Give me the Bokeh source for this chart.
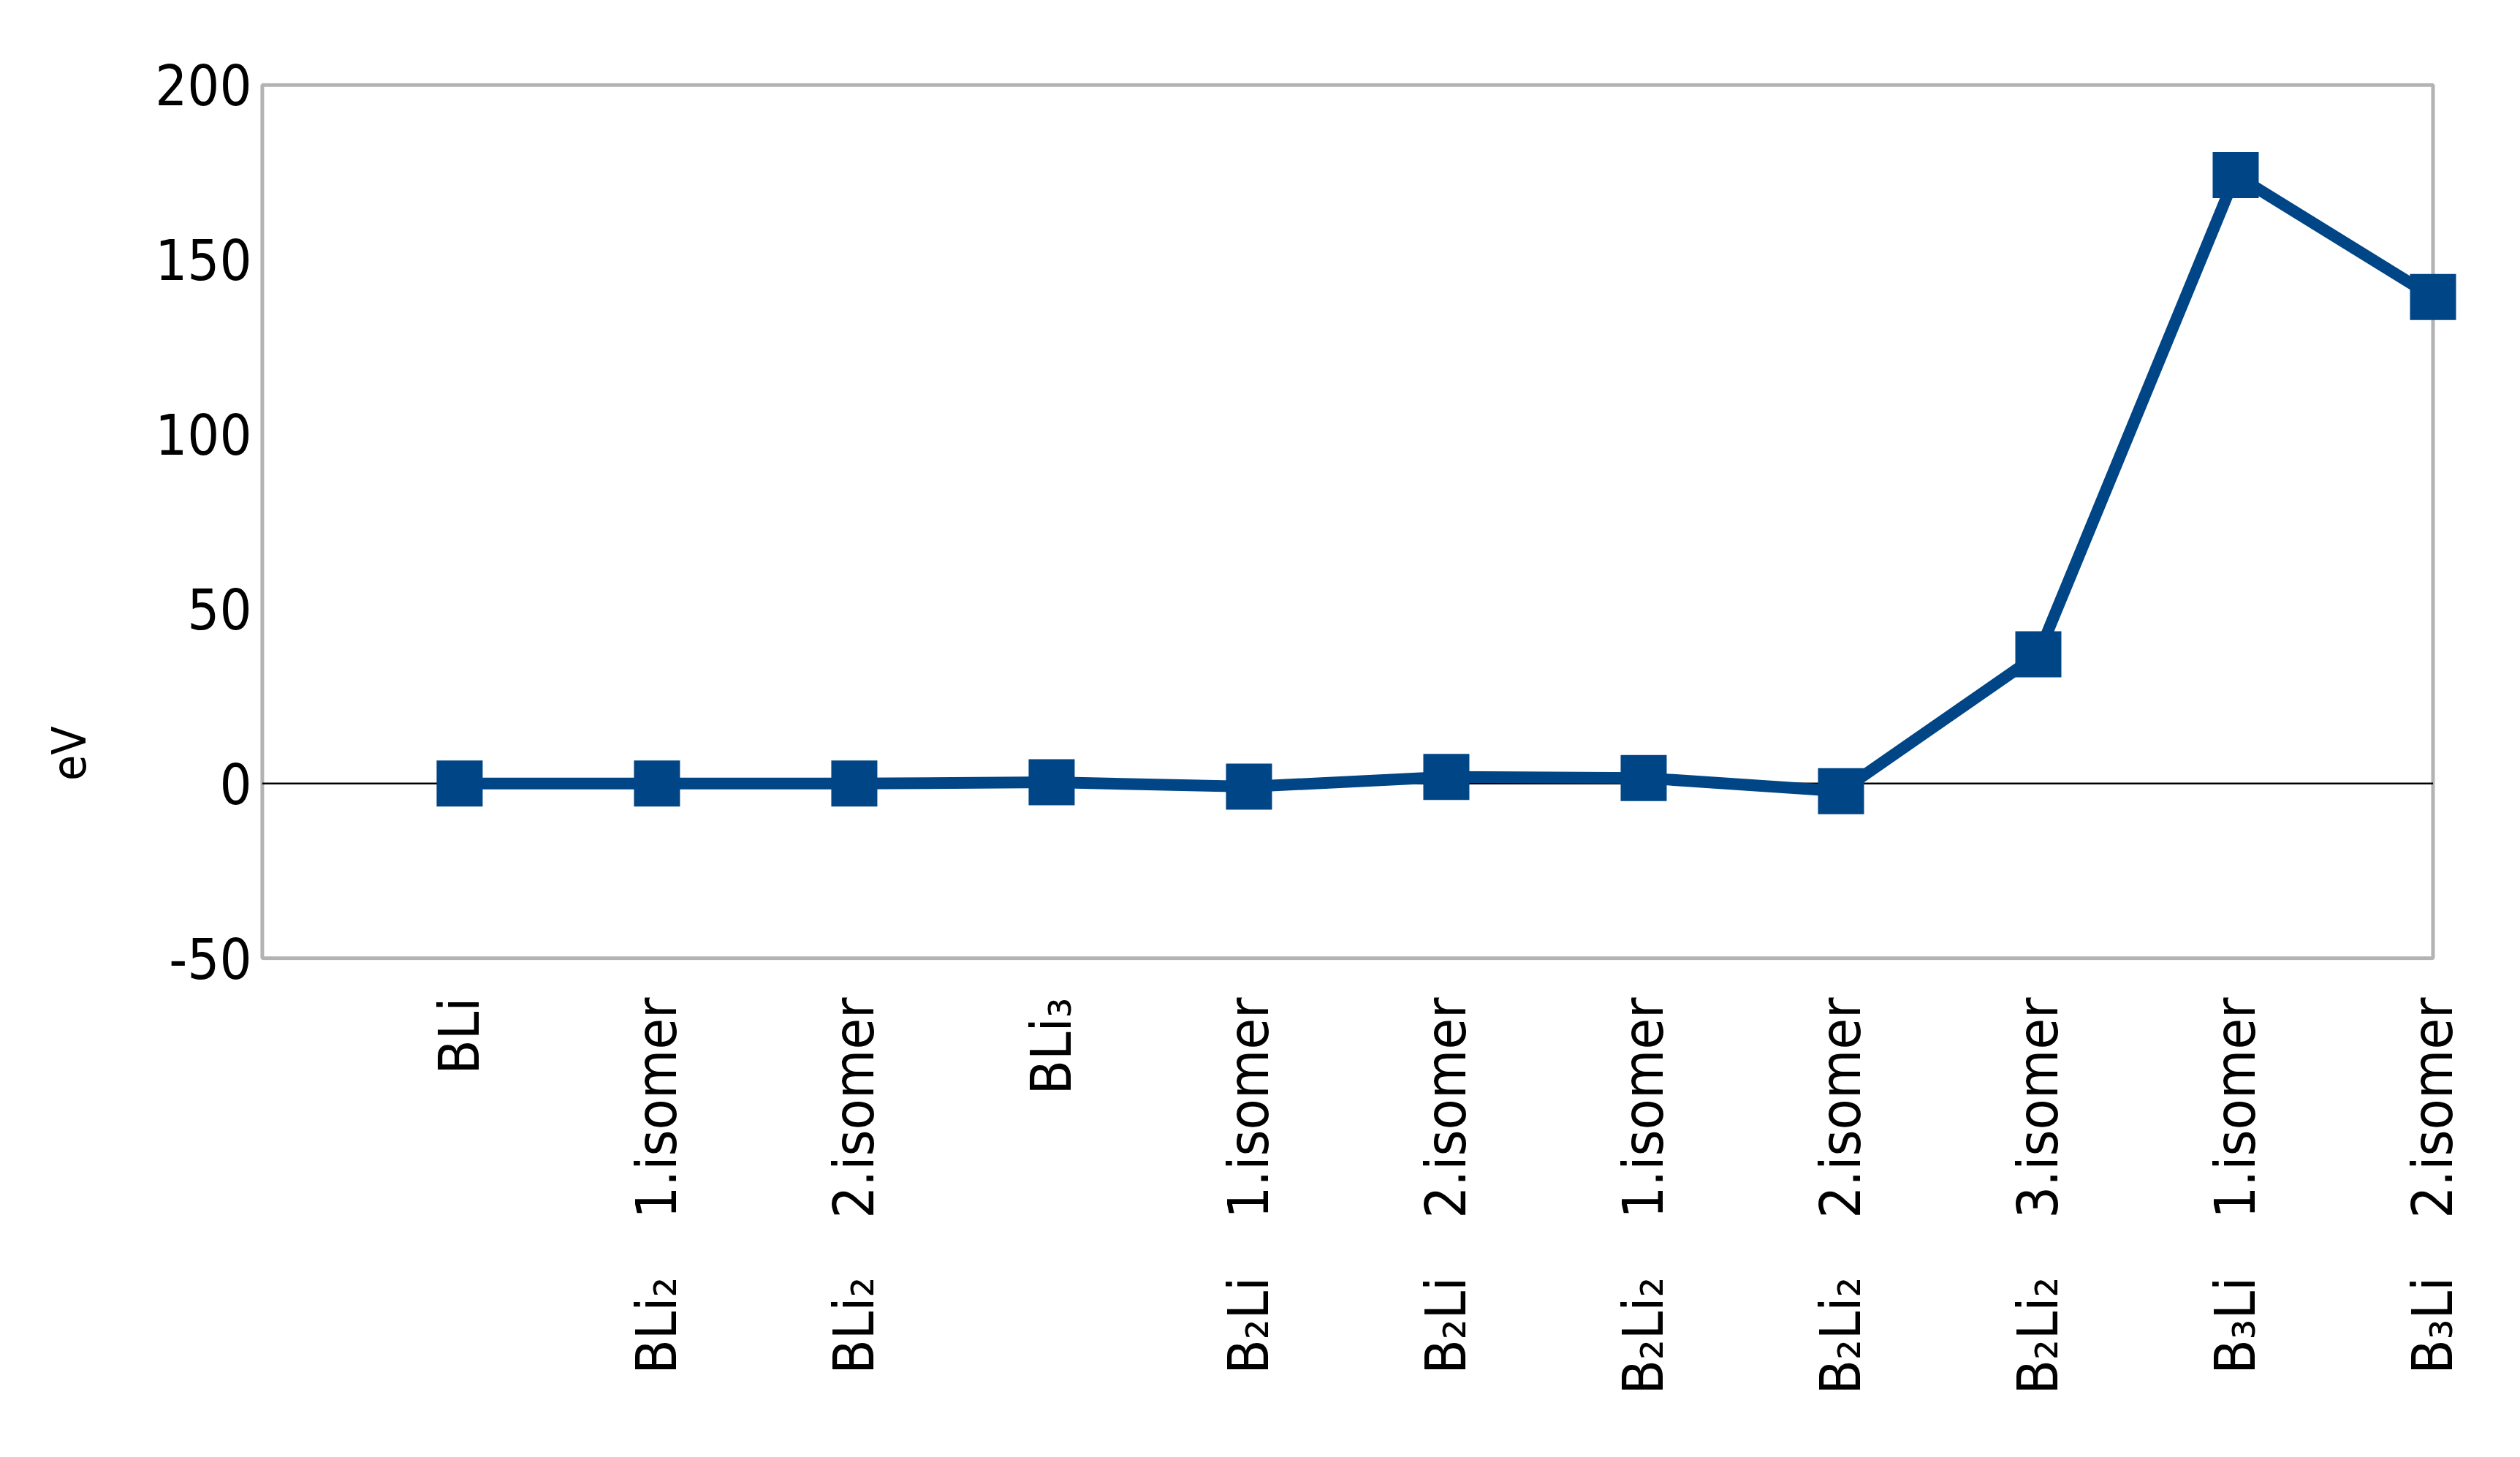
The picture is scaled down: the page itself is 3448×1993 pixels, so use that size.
import math
from bokeh.plotting import figure
from bokeh.layouts import row
from bokeh.models import FixedTicker, Range1d
from bokeh.core.properties import value
from bokeh.embed import file_html
from bokeh.resources import INLINE

SEP = "\u00a0" * 3 + "\u2009"
categories = [
    "BLi",
    "BLi₂" + SEP + "1.isomer",
    "BLi₂" + SEP + "2.isomer",
    "BLi₃",
    "B₂Li" + SEP + "1.isomer",
    "B₂Li" + SEP + "2.isomer",
    "B₂Li₂" + SEP + "1.isomer",
    "B₂Li₂" + SEP + "2.isomer",
    "B₂Li₂" + SEP + "3.isomer",
    "B₃Li" + SEP + "1.isomer",
    "B₃Li" + SEP + "2.isomer",
]
values = [0.0, 0.0, 0.0, 0.35, -0.9, 1.9, 1.6, -2.2, 37.0, 174.2, 139.3]
y_ticks = [-50, 0, 50, 100, 150, 200]
y_tick_labels = ["-50", "0", "50", "100", "150", "200"]
y_title = "eV"

FONT = "'DejaVu Sans Condensed', 'DejaVu Sans', sans-serif"
BLUE = "#004586"
GRAY = "#b3b3b3"

xs = list(range(1, len(categories) + 1))
n = len(categories)
y_min, y_max = y_ticks[0], y_ticks[-1]

common = dict(frame_height=1200, output_backend="svg", toolbar_location=None,
              title=None, min_border_top=113, min_border_bottom=646)

# narrow panel holding the y-axis title
t = figure(frame_width=100, x_range=Range1d(0, 1),
           y_range=Range1d(y_min - 0.6, y_max + 0.6),
           x_axis_location=None, y_axis_location=None,
           min_border_left=45, min_border_right=0, **common)
t.outline_line_color = None
t.grid.visible = False
t.text(x=[0.497], y=[8.6], text=[y_title], angle=math.pi / 2,
       text_align="center", text_baseline="middle",
       text_font=value(FONT), text_font_size="64px", text_color="black")

p = figure(
    frame_width=3016,
    x_range=Range1d(-0.02, n + 0.15),
    y_range=Range1d(y_min - 0.6, y_max + 0.6),
    min_border_left=208, min_border_right=63, **common
)
p.outline_line_color = None
p.xgrid.visible = False
p.ygrid.visible = False
p.background_fill_color = "white"
p.border_fill_color = "white"

# plot border
p.quad(left=[0], right=[n], bottom=[y_min], top=[y_max],
       fill_color=None, line_color=GRAY, line_width=5)
# zero line
p.line(x=[0, n], y=[0, 0], line_color="black", line_width=2.5)
# data
p.line(x=xs, y=values, line_color=BLUE, line_width=16, line_join="miter")
p.scatter(x=xs, y=values, marker="square", size=63,
          fill_color=BLUE, line_color=BLUE, line_width=0)

for ax in (p.xaxis[0], p.yaxis[0]):
    ax.axis_line_color = None
    ax.major_tick_line_color = None
    ax.minor_tick_line_color = None
    ax.major_tick_out = 0
    ax.major_tick_in = 0
    ax.major_label_text_font = FONT
    ax.major_label_text_font_size = "77px"
    ax.major_label_text_color = "black"

p.xaxis.ticker = FixedTicker(ticks=xs)
p.xaxis.major_label_overrides = {x: c for x, c in zip(xs, categories)}
p.xaxis.major_label_orientation = math.pi / 2
p.xaxis.major_label_standoff = 51

p.yaxis.ticker = FixedTicker(ticks=y_ticks)
p.yaxis.major_label_overrides = {tk: s for tk, s in zip(y_ticks, y_tick_labels)}
p.yaxis.major_label_standoff = 9

layout = row(t, p, spacing=0)
open("out.html", "w").write(file_html(layout, INLINE))
